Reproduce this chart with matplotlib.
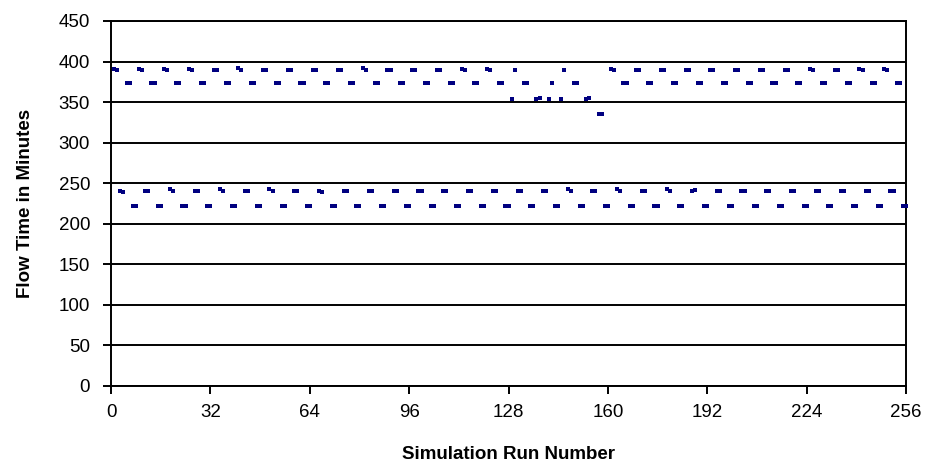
import numpy as np
import matplotlib.pyplot as plt

# ==========================================
# Data: flow time per simulation run (8 runs per block)
# ==========================================
flow_time = [
    391, 390, 241, 239, 373, 373, 222, 222,
    391, 390, 240, 240, 373, 373, 222, 222,
    391, 390, 243, 240, 373, 373, 222, 222,
    391, 390, 240, 240, 373, 373, 222, 222,
    390, 390, 243, 240, 373, 373, 222, 222,
    392, 390, 240, 240, 373, 373, 222, 222,
    390, 390, 243, 240, 373, 373, 222, 222,
    390, 390, 240, 240, 373, 373, 222, 222,
    390, 390, 241, 239, 373, 373, 222, 222,
    390, 390, 240, 240, 373, 373, 222, 222,
    392, 390, 240, 240, 373, 373, 222, 222,
    390, 390, 240, 240, 373, 373, 222, 222,
    390, 390, 240, 240, 373, 373, 222, 222,
    390, 390, 240, 240, 373, 373, 222, 222,
    391, 390, 240, 240, 373, 373, 222, 222,
    391, 390, 240, 240, 373, 373, 222, 222,
    354, 390, 240, 240, 373, 373, 222, 222,
    354, 355, 240, 240, 354, 373, 222, 222,
    354, 390, 243, 240, 373, 373, 222, 222,
    354, 355, 240, 240, 335, 335, 222, 222,
    391, 389, 243, 240, 373, 373, 222, 222,
    390, 390, 240, 240, 373, 373, 222, 222,
    390, 390, 243, 240, 373, 373, 222, 222,
    390, 390, 240, 242, 373, 373, 222, 222,
    390, 390, 240, 240, 373, 373, 222, 222,
    390, 390, 240, 240, 373, 373, 222, 222,
    390, 390, 240, 240, 373, 373, 222, 222,
    390, 390, 240, 240, 373, 373, 222, 222,
    391, 389, 240, 240, 373, 373, 222, 222,
    390, 390, 240, 240, 373, 373, 222, 222,
    391, 390, 240, 240, 373, 373, 222, 222,
    391, 390, 240, 240, 373, 373, 222, 222,
]
run_number = np.arange(1, len(flow_time) + 1)

x_ticks = [0, 32, 64, 96, 128, 160, 192, 224, 256]
y_ticks = [0, 50, 100, 150, 200, 250, 300, 350, 400, 450]

# ==========================================
# Plot
# ==========================================
plt.rcParams.update({'font.family': ['Liberation Sans', 'DejaVu Sans'], 'font.size': 11})
fig = plt.figure(figsize=(9.3, 4.74), dpi=100)
ax = fig.add_axes([0.1194, 0.1857, 0.8548, 0.7700])

ax.plot(run_number, flow_time, linestyle='none', marker='s', markersize=2.5,
        markeredgewidth=0, color='#000080', clip_on=False, zorder=5)

ax.set_xlim(0, 256)
ax.set_ylim(0, 450)
ax.set_xticks(x_ticks)
ax.set_yticks(y_ticks)
ax.yaxis.grid(True, color='black', linewidth=1.4)
ax.set_axisbelow(True)
for side in ['left', 'right', 'top', 'bottom']:
    ax.spines[side].set_color('black')
    ax.spines[side].set_linewidth(1.4)

ax.tick_params(axis='both', direction='out', length=6, width=1.4, labelsize=13.5)
ax.tick_params(axis='y', pad=9)
ax.tick_params(axis='x', pad=7)

ax.set_xlabel('Simulation Run Number', fontweight='bold', fontsize=13.5)
ax.set_ylabel('Flow Time in Minutes', fontweight='bold', fontsize=13.5)
ax.xaxis.set_label_coords(0.5, -0.165)
ax.yaxis.set_label_coords(-0.097, 0.5)

plt.savefig('out.png', dpi=100)
